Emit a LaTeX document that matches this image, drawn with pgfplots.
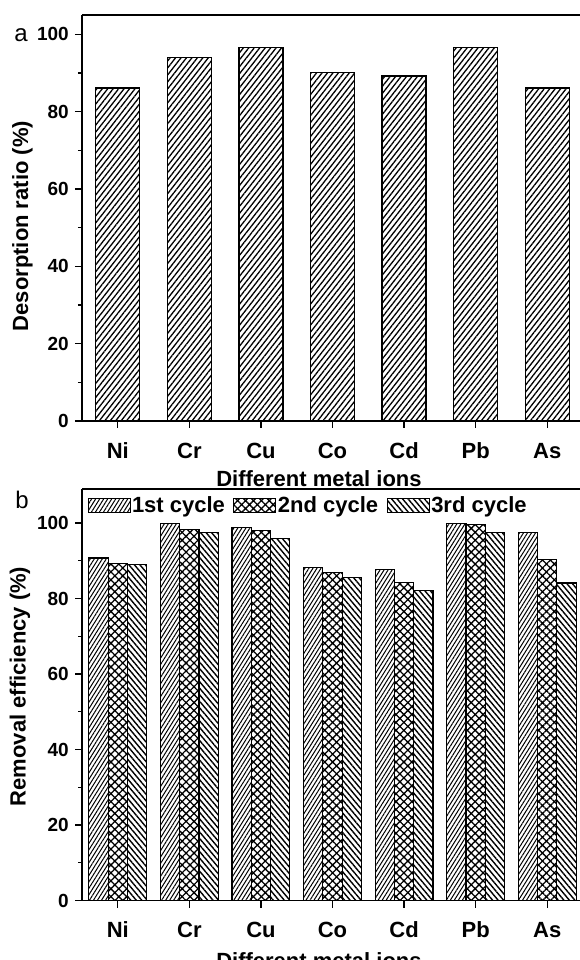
\documentclass[border=0pt]{standalone}
\usepackage{fontspec}
\setmainfont{Liberation Sans}
\usepackage{pgfplots}
\pgfplotsset{compat=1.18}
\usetikzlibrary{patterns.meta}
\begin{document}
\begin{tikzpicture}[x=1pt,y=1pt]
\pgfplotsset{
  common/.style={
    scale only axis, width=501pt, xmin=0.5, xmax=7.5, ymin=0,
    axis lines*=left,
    x axis line style={-}, y axis line style={-},
    xtick={1,...,7}, xticklabels={Ni,Cr,Cu,Co,Cd,Pb,As},
    ytick={0,20,...,100}, minor y tick num=1,
    xtick pos=bottom, ytick pos=left, tick align=outside,
    major tick length=7pt, minor tick length=4pt,
    major tick style={line width=1.2pt,black},
    minor tick style={line width=1.2pt,black},
    axis line style={line width=1.5pt},
    /pgf/number format/assume math mode=true,
    yticklabel style={font=\fontsize{19}{22}\selectfont\bfseries, inner sep=0pt, xshift=-6pt},
    xticklabel style={font=\fontsize{22}{26}\selectfont\bfseries, inner sep=0pt, text height=16pt, text depth=0pt, yshift=-14pt},
    label style={font=\fontsize{22}{26}\selectfont\bfseries},
    xlabel={Different metal ions},
    clip=false,
  }
}
\begin{axis}[common, at={(82pt,539pt)}, anchor=south west, height=406pt, ymax=105,
  ylabel={Desorption ratio (\%)},
  ylabel style={at={(axis description cs:-0.119,0.48)}, anchor=center},
  xlabel style={at={(axis description cs:0.473,0)}, anchor=base, yshift=-66pt},
  ybar, bar width=44pt]
\addplot[draw=black, line width=1.2pt, pattern={Lines[angle=52,distance=4.3pt,line width=1.3pt]}]
  coordinates {(1,86.1) (2,94.1) (3,96.6) (4,90.1) (5,89.2) (6,96.6) (7,86.1)};
\draw[line width=1.5pt] (rel axis cs:0,1) -- (rel axis cs:1,1);
\end{axis}
\begin{axis}[common, at={(82pt,59.5pt)}, anchor=south west, height=411.5pt, ymax=109,
  ylabel={Removal efficiency (\%)},
  ylabel style={at={(axis description cs:-0.124,0.52)}, anchor=center},
  xlabel style={at={(axis description cs:0.473,0)}, anchor=base, yshift=-68pt},
  ybar=0pt, bar width=19.3pt,
  legend columns=3,
  legend style={at={(axis description cs:0.0106,0.985)}, anchor=north west, draw=none, fill=none,
    inner sep=0pt, font=\fontsize{22}{26}\selectfont\bfseries,
    nodes={inner sep=1.5pt},
    /tikz/every even column/.append style={column sep=7pt}},
  legend image code/.code={\draw[#1,draw=black,line width=1pt] (0pt,-6.7pt) rectangle (42pt,6.7pt);}]
\addplot[draw=black, line width=1.2pt, pattern={Lines[angle=58,distance=3.4pt,line width=1pt]}]
  coordinates {(1,90.7) (2,99.9) (3,98.9) (4,88.1) (5,87.7) (6,99.9) (7,97.4)};
\addplot[draw=black, line width=1.2pt, pattern={Hatch[angle=45,distance=5.6pt,line width=1.3pt]}]
  coordinates {(1,89.3) (2,98.2) (3,98.0) (4,86.8) (5,84.3) (6,99.5) (7,90.3)};
\addplot[draw=black, line width=1.2pt, pattern={Lines[angle=-50,distance=4.2pt,line width=1.4pt]}]
  coordinates {(1,89.0) (2,97.4) (3,95.8) (4,85.5) (5,82.2) (6,97.4) (7,84.1)};
\legend{1st cycle, 2nd cycle, 3rd cycle}
\draw[line width=1.5pt] (rel axis cs:0,1) -- (rel axis cs:1,1);
\end{axis}
\node[font=\fontsize{24}{28}\selectfont, anchor=center] at (21pt,925pt) {a};
\node[font=\fontsize{24}{28}\selectfont, anchor=center] at (22pt,460pt) {b};
\pgfresetboundingbox
\useasboundingbox (0,0) rectangle (579pt,960pt);
\end{tikzpicture}
\end{document}
